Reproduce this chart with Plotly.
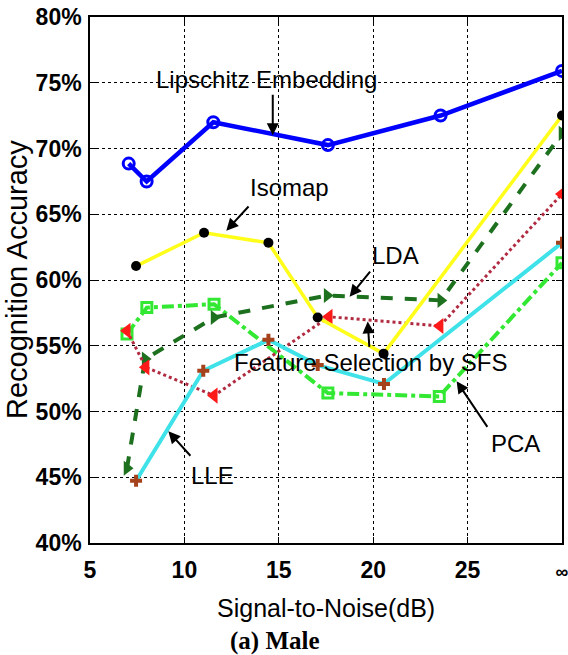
import plotly.graph_objects as go

# ---- data ----
x_tickvals = [5, 10, 15, 20, 25, 30]
x_ticktext = ["5", "10", "15", "20", "25", "∞"]
y_tickvals = [40, 45, 50, 55, 60, 65, 70, 75, 80]
y_ticktext = ["40%", "45%", "50%", "55%", "60%", "65%", "70%", "75%", "80%"]

snr_lip = [7.05, 8.0, 11.53, 17.6, 23.57, 30]
acc_lip = [68.85, 67.49, 72.0, 70.26, 72.51, 75.9]

snr_iso = [7.44, 11.04, 14.45, 17.06, 20.55, 30]
acc_iso = [61.06, 63.59, 62.83, 57.15, 54.4, 72.51]

snr_lda = [6.96, 7.92, 11.57, 17.56, 23.58, 30]
acc_lda = [45.69, 53.99, 57.15, 58.82, 58.45, 71.15]

snr_sfs = [6.96, 7.96, 11.57, 17.66, 23.53, 30]
acc_sfs = [56.14, 53.36, 51.21, 57.2, 56.5, 66.54]

snr_pca = [6.96, 8.01, 11.57, 17.6, 23.5, 30]
acc_pca = [55.9, 57.9, 58.16, 51.4, 51.15, 61.31]

snr_lle = [7.44, 11.0, 14.45, 17.06, 20.57, 30]
acc_lle = [44.74, 53.1, 55.45, 53.53, 52.1, 62.83]

labels = ["Lipschitz Embedding", "Isomap", "LDA", "Feature Selection by SFS", "PCA", "LLE"]
label_x = [14.34, 15.54, 21.2, 19.87, 27.56, 11.5]
label_y = [75.28, 67.0, 61.83, 53.69, 47.53, 45.17]
arrow_tail_x = [14.68, 13.47, 19.9, 19.8, 26.1, 10.39]
arrow_tail_y = [74.2, 65.7, 60.76, 54.8, 48.72, 46.52]
arrow_head_x = [14.68, 12.22, 18.75, 19.71, 24.42, 9.15]
arrow_head_y = [71.0, 63.75, 58.72, 56.85, 52.3, 48.5]

fig = go.Figure()

# PCA
fig.add_trace(go.Scatter(
    x=snr_pca, y=acc_pca, mode="lines+markers",
    line=dict(color="#33e833", width=4, dash="dashdot"),
    marker=dict(symbol="square-open", size=10, color="#33e833", line=dict(width=3, color="#33e833")),
    showlegend=False))
# LDA
fig.add_trace(go.Scatter(
    x=snr_lda, y=acc_lda, mode="lines+markers",
    line=dict(color="#1d701d", width=4, dash="dash"),
    marker=dict(symbol="triangle-right", size=13, color="#1d701d"),
    showlegend=False))
# Feature selection by SFS
fig.add_trace(go.Scatter(
    x=snr_sfs, y=acc_sfs, mode="lines+markers",
    line=dict(color="#b02a40", width=3, dash="dot"),
    marker=dict(symbol="triangle-left", size=14, color="#ff1a1a"),
    showlegend=False))
# LLE
fig.add_trace(go.Scatter(
    x=snr_lle, y=acc_lle, mode="lines+markers",
    line=dict(color="#3ee2e8", width=4),
    marker=dict(symbol="cross", size=10, color="#a5421c"),
    showlegend=False))
# Isomap
fig.add_trace(go.Scatter(
    x=snr_iso, y=acc_iso, mode="lines+markers",
    line=dict(color="#ffff1a", width=3.5),
    marker=dict(symbol="circle", size=10, color="black"),
    showlegend=False))
# Lipschitz
fig.add_trace(go.Scatter(
    x=snr_lip, y=acc_lip, mode="lines+markers",
    line=dict(color="#0000ff", width=4.5),
    marker=dict(symbol="circle-open", size=11, color="#0000ff", line=dict(width=3, color="#0000ff")),
    showlegend=False))

annots = []
for i, t in enumerate(labels):
    annots.append(dict(x=label_x[i], y=label_y[i], xref="x", yref="y", text=t,
                       showarrow=False, xanchor="center", yanchor="middle",
                       font=dict(family="Liberation Sans, Arial, sans-serif", size=24, color="black")))
    annots.append(dict(x=arrow_head_x[i], y=arrow_head_y[i], xref="x", yref="y",
                       ax=arrow_tail_x[i], ay=arrow_tail_y[i], axref="x", ayref="y",
                       text="", showarrow=True, arrowhead=2, arrowsize=1.2,
                       arrowwidth=2, arrowcolor="black"))

PW, PH = 472, 526
def px_to_paper_x(px):
    return (px - 90) / PW
def px_to_paper_y(py):
    return (543 - py) / PH

annots.append(dict(x=px_to_paper_x(326), y=px_to_paper_y(608), xref="paper", yref="paper",
                   text="Signal-to-Noise(dB)", showarrow=False, xanchor="center", yanchor="middle",
                   font=dict(family="Liberation Sans, Arial, sans-serif", size=25, color="black")))
annots.append(dict(x=px_to_paper_x(17), y=px_to_paper_y(280), xref="paper", yref="paper",
                   text="Recognition Accuracy", textangle=-90, showarrow=False,
                   xanchor="center", yanchor="middle",
                   font=dict(family="Liberation Sans, Arial, sans-serif", size=29, color="black")))
annots.append(dict(x=px_to_paper_x(275), y=px_to_paper_y(641), xref="paper", yref="paper",
                   text="<b>(a) Male</b>", showarrow=False, xanchor="center", yanchor="middle",
                   font=dict(family="Liberation Serif, Times New Roman, serif", size=25, color="black")))

axis_common = dict(
    showline=True, mirror="allticks", linecolor="black", linewidth=1.5,
    showgrid=True, gridcolor="black", griddash="dot", gridwidth=1,
    ticks="inside", ticklen=6, tickcolor="black", tickwidth=1,
    zeroline=False, ticklabeloverflow="allow", automargin=False,
    tickfont=dict(family="Liberation Sans, Arial, sans-serif", size=23, color="black", weight="bold"),
)

# the infinity label is drawn a little smaller so it stays inside the picture
x_ticktext_shown = [t if t != "∞" else '<span style="font-size:18px">∞</span>' for t in x_ticktext]

fig.update_layout(
    width=568, height=655,
    margin=dict(l=90, r=6, t=17, b=112),
    paper_bgcolor="white", plot_bgcolor="white",
    xaxis=dict(range=[5, 30], tickmode="array", tickvals=x_tickvals, ticktext=x_ticktext_shown,
               ticklabelstandoff=6, **axis_common),
    yaxis=dict(range=[40, 80], tickmode="array", tickvals=y_tickvals, ticktext=y_ticktext,
               ticklabelstandoff=2, **axis_common),
    annotations=annots,
)

fig.write_html("out.html")
